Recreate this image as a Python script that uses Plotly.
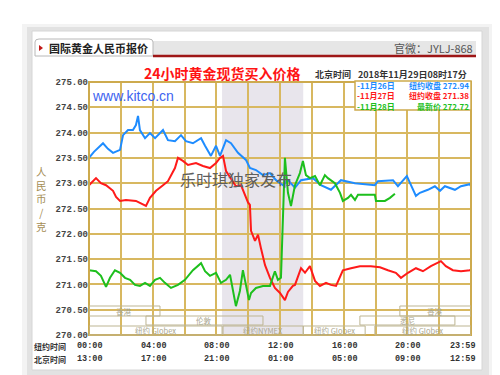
import plotly.graph_objects as go

# ---------------- data ----------------
blue_t = [0.00, 0.31, 0.88, 1.19, 1.51, 1.95, 2.14, 2.45, 2.76, 2.95, 3.08, 3.20, 3.52, 3.83, 4.15, 4.65, 4.96,
          5.40, 5.78, 6.09, 6.53, 7.04, 7.29, 7.66, 7.98, 8.23, 8.61, 8.92, 9.36, 9.86, 10.11, 10.49, 10.93,
          11.37, 11.75, 12.19, 12.50, 12.94, 13.32, 14.07, 14.57, 15.20, 15.83, 16.71, 17.96, 18.15, 19.10,
          19.41, 19.97, 20.54, 20.79, 21.29, 21.73, 22.05, 22.36, 22.99, 23.37, 23.93, 24.00]
blue_v = [273.50, 273.62, 273.79, 273.68, 273.60, 273.66, 273.95, 274.05, 274.05, 274.15, 274.33, 274.05, 273.89,
          273.99, 273.89, 274.05, 273.85, 273.83, 273.95, 273.83, 273.79, 273.89, 273.74, 273.54, 273.74, 273.54,
          273.85, 273.79, 273.60, 273.46, 273.30, 273.26, 273.16, 273.20, 273.06, 272.96, 273.06, 272.91, 273.06,
          273.10, 272.96, 272.87, 273.06, 273.00, 272.96, 273.04, 273.06, 272.94, 273.14, 272.75, 272.81, 272.87,
          272.94, 272.85, 272.94, 272.87, 272.94, 272.98, 272.94]

red_t = [0.00, 0.44, 0.75, 1.07, 1.51, 1.70, 1.95, 2.32, 2.95, 3.58, 3.83, 4.21, 4.65, 4.96, 5.40, 5.59, 5.90,
         6.22, 6.72, 7.16, 7.60, 7.98, 8.23, 8.42, 8.61, 8.92, 9.23, 9.55, 9.80, 9.99, 10.11, 10.18, 10.43, 10.62,
         10.80, 11.06, 11.37, 11.68, 12.00, 12.31, 12.50, 12.81, 12.94, 13.32, 13.57, 13.88, 14.20, 14.51, 14.89,
         15.20, 15.52, 15.95, 16.46, 17.02, 17.71, 18.28, 18.78, 19.28, 19.60, 20.04, 20.54, 20.98, 21.48, 21.92,
         22.11, 22.42, 22.86, 23.37, 23.93, 24.00]
red_v = [272.96, 273.10, 273.00, 272.96, 272.85, 272.73, 272.65, 272.67, 272.65, 272.55, 272.71, 272.85, 272.96,
         273.04, 273.30, 273.50, 273.44, 273.36, 273.40, 273.34, 273.30, 273.40, 273.50, 273.54, 273.24, 273.10,
         272.94, 272.96, 272.77, 272.62, 272.57, 272.06, 271.86, 271.98, 271.72, 271.38, 271.13, 270.93, 270.83,
         270.69, 270.85, 270.97, 270.99, 271.32, 271.23, 271.36, 271.07, 270.97, 271.03, 270.99, 270.97, 271.28,
         271.32, 271.36, 271.36, 271.34, 271.28, 271.23, 271.13, 271.23, 271.32, 271.26, 271.36, 271.42, 271.46,
         271.36, 271.28, 271.26, 271.28, 271.30]

green_t = [0.00, 0.44, 0.75, 1.07, 1.32, 1.63, 1.95, 2.26, 2.58, 2.89, 3.20, 3.52, 3.83, 4.15, 4.46, 4.77, 5.15,
           5.59, 6.03, 6.53, 7.04, 7.29, 7.60, 7.98, 8.29, 8.61, 8.86, 9.05, 9.23, 9.48, 9.67, 9.86, 10.05, 10.18,
           10.49, 10.93, 11.37, 11.68, 11.87, 12.06, 12.12, 12.19, 12.31, 12.50, 12.69, 12.94, 13.25, 13.44, 13.63,
           13.88, 14.20, 14.51, 14.82, 15.01, 15.45, 15.77, 15.95, 16.27, 16.46, 16.71, 16.90, 17.96, 18.03, 18.59,
           18.91, 19.22]
green_v = [271.28, 271.26, 271.17, 270.95, 271.13, 271.28, 271.23, 271.13, 271.09, 270.99, 270.97, 271.03, 270.97,
           271.09, 271.13, 271.03, 270.93, 270.99, 271.09, 271.28, 271.42, 271.26, 271.17, 271.23, 271.03, 271.09,
           271.19, 270.83, 270.57, 270.87, 271.28, 270.99, 270.69, 270.83, 270.93, 270.97, 270.97, 271.26, 271.09,
           271.13, 271.72, 272.18, 273.50, 272.81, 272.55, 272.96, 273.20, 273.44, 273.16, 273.10, 273.14, 272.96,
           273.16, 273.10, 273.00, 272.81, 272.65, 272.71, 272.77, 272.67, 272.77, 272.77, 272.65, 272.65, 272.71,
           272.79]

series_names = ["11月26日", "11月27日", "11月28日"]
series_notes = ["纽约收盘 272.94", "纽约收盘 271.38", "最新价 272.72"]
series_colors = ["#1E8CFF", "#FF1A1A", "#1DBF1D"]

ny_ticks = [0, 4, 8, 12, 16, 20, 24]
ny_labels = ["00:00", "04:00", "08:00", "12:00", "16:00", "20:00", "23:59"]
bj_labels = ["13:00", "17:00", "21:00", "01:00", "05:00", "09:00", "12:59"]

nymex_span = [8.36, 13.46]
# sessions: (name, start hour, end hour, row)
sessions = [
    ("香港", 0.0, 4.46, 0), ("香港", 19.53, 24.0, 0),
    ("伦敦", 3.58, 10.93, 1), ("悉尼", 17.02, 22.99, 1),
    ("纽约 Globex", 0.0, 8.36, 2), ("纽约NYMEX", 8.42, 13.46, 2),
    ("纽约 Globex", 13.46, 17.35, 2), ("纽约 Globex", 17.96, 24.0, 2),
]

# ---------------- geometry helpers ----------------
L, R, T, B = 81, 463, 74, 327
W, H = 500, 375


def px(x):
    return (x - L) / (R - L)


def py(y):
    return (B - y) / (B - T)


CJK = "Noto Sans CJK SC"
MONO = "Liberation Mono"
GOLD = "#CDAA4E"

fig = go.Figure()
for t, v, c, n in zip([blue_t, red_t, green_t], [blue_v, red_v, green_v], series_colors, series_names):
    fig.add_trace(go.Scatter(x=t, y=v, mode="lines", line=dict(color=c, width=2), name=n,
                             showlegend=False, hoverinfo="skip"))

shapes = []
ann = []

# card + shadow
shapes.append(dict(type="rect", xref="paper", yref="paper", x0=px(14), x1=px(486), y0=py(372), y1=py(16),
                   fillcolor="#f3f3f3", line=dict(width=0), layer="below"))
shapes.append(dict(type="rect", xref="paper", yref="paper", x0=px(19), x1=px(481), y0=py(368), y1=py(19),
                   fillcolor="#e2e2e2", line=dict(width=0), layer="below"))
shapes.append(dict(type="rect", xref="paper", yref="paper", x0=px(24), x1=px(474), y0=py(362), y1=py(23),
                   fillcolor="white", line=dict(color="#d6d6d6", width=1), layer="below"))

# header band
shapes.append(dict(type="rect", xref="paper", yref="paper", x0=px(145), x1=px(468), y0=py(48), y1=py(33),
                   fillcolor="#e6e6e6", line=dict(width=0), layer="below"))
shapes.append(dict(type="path", xref="paper", yref="paper", layer="below",
                   path=f"M {px(27)} {py(48)} L {px(27)} {py(34)} Q {px(27)} {py(31)} {px(31)} {py(31)} "
                        f"L {px(141)} {py(31)} Q {px(145)} {py(31)} {px(145)} {py(34)} L {px(145)} {py(48)} Z",
                   fillcolor="white", line=dict(color="#b8b8b8", width=1)))
shapes.append(dict(type="line", xref="paper", yref="paper", x0=px(145), x1=px(468), y0=py(48), y1=py(48),
                   line=dict(color="#9E1616", width=2.5)))
shapes.append(dict(type="path", xref="paper", yref="paper",
                   path=f"M {px(31)} {py(37)} L {px(35)} {py(40)} L {px(31)} {py(43)} Z",
                   fillcolor="#C01818", line=dict(width=0)))

# NYMEX shading
shapes.append(dict(type="rect", xref="x", yref="paper", x0=nymex_span[0], x1=nymex_span[1], y0=0, y1=1,
                   fillcolor="#E8E5EC", line=dict(width=0), layer="below"))

# plot frame
shapes.append(dict(type="rect", xref="paper", yref="paper", x0=0, x1=1, y0=0, y1=1,
                   line=dict(color=GOLD, width=2)))

# session boxes
rows = [(298, 308), (308, 317), (318, 327)]
for name, s, e, r in sessions:
    y0, y1 = rows[r]
    shapes.append(dict(type="rect", xref="x", yref="paper", x0=s, x1=e, y0=py(y1), y1=py(y0),
                       line=dict(color="#BDB592", width=1), fillcolor="rgba(0,0,0,0)"))
    ann.append(dict(xref="x", yref="paper", x=(s + e) / 2, y=py((y0 + y1) / 2), text=name, showarrow=False,
                    font=dict(family=CJK, size=7.5, color="#A9A68E"), xanchor="center", yanchor="middle",
                    borderpad=0))

# legend box
shapes.append(dict(type="rect", xref="paper", yref="paper", x0=px(347), x1=px(463), y0=py(102), y1=py(73),
                   fillcolor="white", line=dict(color=GOLD, width=1.5)))
left_txt = "<br>".join(f"<span style='color:{c}'>-{n}</span>" for n, c in zip(series_names, series_colors))
right_txt = "<br>".join(f"<span style='color:{c}'>{t}</span>" for t, c in zip(series_notes, series_colors))
ann.append(dict(xref="paper", yref="paper", x=px(348), y=py(88), text=left_txt, showarrow=False, borderpad=0,
                xanchor="left", yanchor="middle", align="left",
                font=dict(family=CJK, size=8, color="#333", weight="bold")))
ann.append(dict(xref="paper", yref="paper", x=px(462), y=py(88), text=right_txt, showarrow=False, borderpad=0,
                xanchor="right", yanchor="middle", align="right",
                font=dict(family=CJK, size=8, color="#333", weight="bold")))

# header texts
ann.append(dict(xref="paper", yref="paper", x=px(39), y=py(40), text="国际黄金人民币报价", showarrow=False,
                xanchor="left", yanchor="middle", font=dict(family=CJK, size=11, color="#222", weight="bold")))
ann.append(dict(xref="paper", yref="paper", x=px(467), y=py(40), text="官微：JYLJ-868", showarrow=False,
                xanchor="right", yanchor="middle", font=dict(family=CJK, size=11, color="#555")))
ann.append(dict(xref="paper", yref="paper", x=px(214), y=py(65), text="24小时黄金现货买入价格", showarrow=False,
                xanchor="center", yanchor="middle", font=dict(family=CJK, size=14, color="#FF1414", weight="bold")))
ann.append(dict(xref="paper", yref="paper", x=px(305), y=py(67), text="北京时间", showarrow=False,
                xanchor="left", yanchor="middle", font=dict(family=CJK, size=9, color="#333", weight="bold")))
ann.append(dict(xref="paper", yref="paper", x=px(461), y=py(67), text="2018年11月29日08时17分", showarrow=False,
                xanchor="right", yanchor="middle", font=dict(family=CJK, size=9, color="#333", weight="bold")))
ann.append(dict(xref="paper", yref="paper", x=px(82), y=py(88), text="www.kitco.cn", showarrow=False,
                xanchor="left", yanchor="middle", font=dict(family="Liberation Sans", size=14, color="#3D63F0")))
ann.append(dict(xref="paper", yref="paper", x=px(228), y=py(171), text="乐时琪独家发布", showarrow=False,
                xanchor="center", yanchor="middle", font=dict(family=CJK, size=16, color="#5E5E5E")))

# y axis title (stacked, one text block)
ann.append(dict(xref="paper", yref="paper", x=px(33), y=py(191), text="人<br>民<br>币<br>/<br>克",
                showarrow=False, xanchor="center", yanchor="middle", align="center",
                font=dict(family=CJK, size=10.5, color="#A58E55")))

# x labels
ann.append(dict(xref="paper", yref="paper", x=px(25), y=py(338), text="纽约时间", showarrow=False, borderpad=0,
                xanchor="left", yanchor="middle", font=dict(family=CJK, size=8, color="#333", weight="bold")))
ann.append(dict(xref="paper", yref="paper", x=px(25), y=py(351), text="北京时间", showarrow=False, borderpad=0,
                xanchor="left", yanchor="middle", font=dict(family=CJK, size=8, color="#333", weight="bold")))
for t, a, b in zip(ny_ticks, ny_labels, bj_labels):
    sh = -8 if t == 24 else 1
    for txt, yy in ((a, 338), (b, 351)):
        ann.append(dict(xref="x", yref="paper", x=t, y=py(yy), text=txt, showarrow=False, xshift=sh,
                        xanchor="center", yanchor="middle", borderpad=0,
                        font=dict(family=MONO, size=8.5, color="#333", weight="bold")))

fig.update_layout(
    width=W, height=H,
    margin=dict(l=L, r=W - R, t=T, b=H - B, pad=0),
    paper_bgcolor="white", plot_bgcolor="white",
    shapes=shapes, annotations=ann, showlegend=False,
    xaxis=dict(range=[0, 24], dtick=2, tick0=0, showgrid=True, gridcolor="#D8B860", gridwidth=1.5,
               showticklabels=False, zeroline=False, showline=False, fixedrange=True),
    yaxis=dict(range=[270, 275], dtick=0.5, tick0=270, tickformat=".2f", showgrid=True, gridcolor="#D8B860",
               gridwidth=1.5, zeroline=False, showline=False, ticks="",
               tickfont=dict(family=MONO, size=9, color="#444", weight="bold"), fixedrange=True),
)

fig.write_html("out.html")
